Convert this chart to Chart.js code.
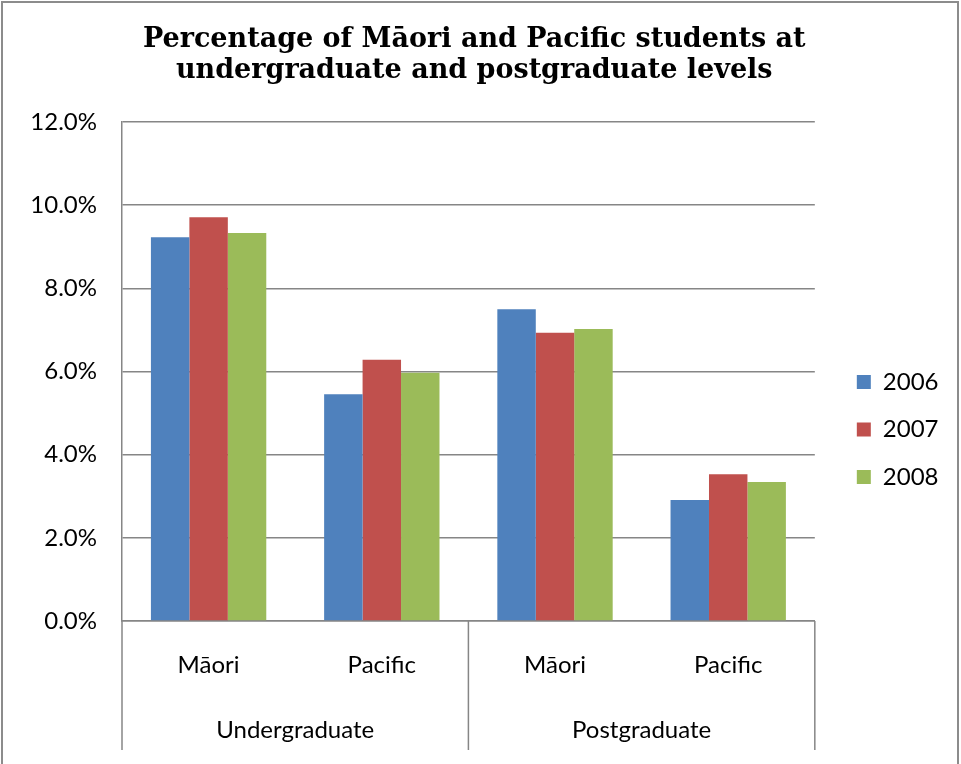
<!DOCTYPE html>
<html>
<head>
<meta charset="utf-8">
<script src="https://cdn.jsdelivr.net/npm/chart.js@4.4.1/dist/chart.umd.min.js"></script>
<style>
  html, body { margin: 0; padding: 0; background: #ffffff; }
  #wrap { position: relative; width: 961px; height: 764px; }
</style>
</head>
<body>
<div id="wrap"><canvas id="c"></canvas></div>
<script>
const titleLines = ['Percentage of M\u0101ori and Pacific students at', 'undergraduate and postgraduate levels'];
const categories = ['M\u0101ori', 'Pacific', 'M\u0101ori', 'Pacific'];
const groups = ['Undergraduate', 'Postgraduate'];
const years = ['2006', '2007', '2008'];
const values2006 = [9.23, 5.45, 7.50, 2.91];
const values2007 = [9.71, 6.28, 6.93, 3.53];
const values2008 = [9.33, 5.97, 7.02, 3.34];
const yMin = 0, yMax = 12, yStep = 2;
const colors = ['#4F81BD', '#C0504D', '#9BBB59'];

const FONT = "Lato, 'Open Sans', sans-serif";
const FS = 24;
const GRID = '#868686';

const framePlugin = {
  id: 'frame',
  beforeDraw(chart) {
    const ctx = chart.ctx;
    ctx.save();
    ctx.strokeStyle = '#8c8c8c';
    ctx.lineWidth = 2;
    ctx.beginPath();
    ctx.moveTo(2, 770); ctx.lineTo(2, 2); ctx.lineTo(958, 2); ctx.lineTo(958, 770);
    ctx.stroke();
    ctx.restore();
  },
  afterDraw(chart) {
    const ctx = chart.ctx, a = chart.chartArea, x = chart.scales.x;
    const mid = (x.getPixelForValue(1) + x.getPixelForValue(2)) / 2;
    ctx.save();
    ctx.strokeStyle = GRID;
    ctx.lineWidth = 1.5;
    ctx.beginPath();
    [a.left, mid, a.right].forEach(px => {
      ctx.moveTo(px, a.bottom);
      ctx.lineTo(px, a.bottom + 129);
    });
    ctx.stroke();
    ctx.restore();
  }
};

new Chart(document.getElementById('c'), {
  type: 'bar',
  data: {
    labels: categories,
    datasets: [
      { label: years[0], data: values2006, backgroundColor: colors[0] },
      { label: years[1], data: values2007, backgroundColor: colors[1] },
      { label: years[2], data: values2008, backgroundColor: colors[2] }
    ]
  },
  options: {
    responsive: true,
    maintainAspectRatio: false,
    animation: false,
    layout: { padding: { left: 0, right: 12.5, top: 0, bottom: 0 } },
    datasets: { bar: { barPercentage: 1, categoryPercentage: 0.666 } },
    plugins: {
      tooltip: { enabled: false },
      title: {
        display: true,
        text: titleLines,
        color: '#000',
        font: { family: "'DejaVu Serif', serif", weight: 'bold', size: 27, lineHeight: 31 / 27 },
        padding: { top: 24.5, bottom: 35.5 }
      },
      legend: {
        position: 'right',
        title: { display: true, text: ' ', font: { size: 95, lineHeight: 1 }, padding: 0 },
        labels: {
          boxWidth: 14, boxHeight: 14, padding: 23.5, color: '#000',
          font: { family: FONT, size: FS }
        }
      }
    },
    scales: {
      y: {
        min: yMin, max: yMax,
        ticks: {
          stepSize: yStep, padding: 25, color: '#000',
          font: { family: FONT, size: FS },
          callback: v => v.toFixed(1) + '%'
        },
        grid: { color: GRID, lineWidth: 1.5, drawTicks: false },
        border: { display: true, color: GRID, width: 1.5 },
        afterFit: s => { s.width = 122; }
      },
      yR: {
        type: 'linear', position: 'right', display: true,
        ticks: { display: false },
        grid: { display: false, drawTicks: false },
        border: { display: false },
        afterFit: s => { s.width = 18.5; }
      },
      x: {
        position: 'bottom',
        ticks: { padding: 30, color: '#000', font: { family: FONT, size: FS }, maxRotation: 0 },
        grid: { display: true, drawOnChartArea: false, drawTicks: false },
        border: { display: true, color: GRID, width: 1.5 },
        afterFit: s => { s.height = 60; }
      },
      x2: {
        type: 'category', position: 'bottom', labels: groups, offset: true,
        ticks: { padding: 35, color: '#000', font: { family: FONT, size: FS }, maxRotation: 0 },
        grid: { display: false, drawTicks: false },
        border: { display: false },
        afterFit: s => { s.height = 83; }
      }
    }
  },
  plugins: [framePlugin]
});
</script>
</body>
</html>
